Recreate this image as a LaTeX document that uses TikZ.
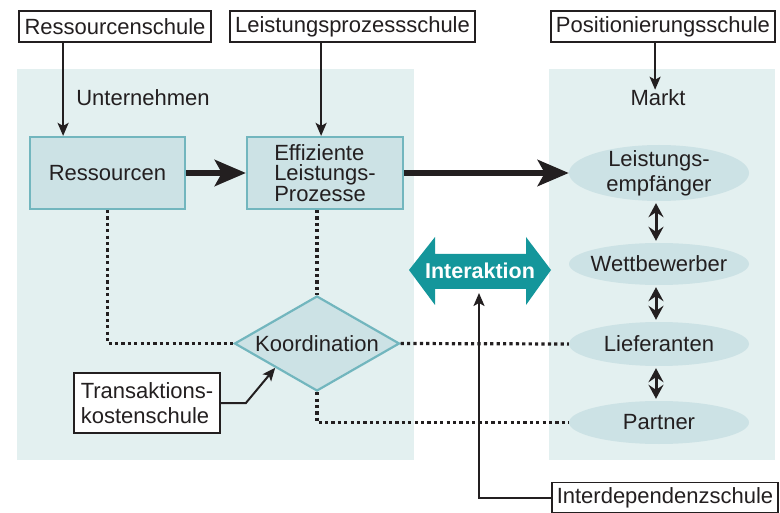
\documentclass[tikz,border=0pt]{standalone}
\usepackage{fontspec}
\setmainfont{Liberation Sans}
\usetikzlibrary{shapes.geometric,arrows.meta,calc}
\definecolor{txt}{HTML}{231F20}
\definecolor{panel}{HTML}{E3F0F0}
\definecolor{boxfill}{HTML}{CCE2E5}
\definecolor{boxline}{HTML}{72B6BE}
\definecolor{tealc}{HTML}{14969B}
\begin{document}
\begin{tikzpicture}[x=1pt,y=-1pt,
  every node/.style={text=txt, font=\fontsize{22}{23}\selectfont, inner sep=0pt},
  school/.style={draw=txt, line width=1.8pt, fill=white},
  proc/.style={fill=boxfill, draw=boxline, line width=2.2pt},
  mk/.style={ellipse, fill=boxfill, minimum width=180, align=center, inner xsep=-10pt, inner ysep=-6pt},
  thinarrow/.style={draw=txt, line width=2pt, -{Stealth[length=13pt,width=11pt,inset=3pt]}},
  thickarrow/.style={draw=txt, line width=6.5pt, -{Stealth[length=31pt,width=26pt,inset=7pt]}},
  dblarrow/.style={draw=txt, line width=3pt, {Stealth[length=14pt,width=15pt,inset=5pt]}-{Stealth[length=14pt,width=15pt,inset=5pt]}, shorten <=2pt, shorten >=2pt},
  dotline/.style={draw=txt, line width=3.2pt, dash pattern=on 3.2pt off 3.2pt}
]
\useasboundingbox (0,0) rectangle (780,513);
% panels
\fill[panel] (17,69) rectangle (414,460);
\fill[panel] (549,69) rectangle (775,460);

% school boxes
\node[school, minimum width=192, minimum height=31] (rs) at (115,26.5) {Ressourcenschule};
\node[school, minimum width=245, minimum height=31] (lp) at (352.5,26.5) {Leistungsprozessschule};
\node[school, minimum width=224, minimum height=31] (ps) at (663,26.5) {Positionierungsschule};
\node[school, minimum width=146, minimum height=60, align=left, font=\fontsize{22}{25}\selectfont] (tk) at (147,403) {Transaktions-\\kostenschule};
\node[school, minimum width=226, minimum height=30] (id) at (665,497.5) {Interdependenzschule};

% labels
\node (unt) at (143,98) {Unternehmen};
\node (markt) at (658,98) {Markt};

% process boxes
\node[proc, minimum width=155, minimum height=72] (ress) at (107.5,173) {Ressourcen};
\node[proc, minimum width=156, minimum height=72, align=left, font=\fontsize{22}{20.5}\selectfont] (eff) at (325,173) {Effiziente\\Leistungs-\\Prozesse};

% market ellipses
\node[mk, minimum height=56, font=\fontsize{22}{25}\selectfont] (le) at (659,173) {Leistungs-\\empfänger};
\node[mk, minimum height=42] (wb) at (659,264) {Wettbewerber};
\node[mk, minimum height=44] (lief) at (659,344) {Lieferanten};
\node[mk, minimum height=43] (part) at (659,422.5) {Partner};

% coordination diamond
\node[diamond, aspect=1.74, proc, minimum width=165, minimum height=95] (koord) at (317,343.5) {Koordination};

% interaction double arrow
\fill[tealc] (409,270) -- (435,237) -- (435,254) -- (526,254) -- (526,237) -- (551,270)
  -- (526,305) -- (526,289) -- (435,289) -- (435,305) -- cycle;
\node[text=white, font=\fontsize{21.5}{22}\selectfont\bfseries] (inter) at (480,271) {Interaktion};
\coordinate (interb) at (479,293);

% school arrows
\coordinate (a1) at ($(rs.south west)+(45,0)$);
\draw[thinarrow] (a1) -- (a1 |- ress.north);
\coordinate (a2) at ($(lp.south west)+(92,0)$);
\draw[thinarrow] (a2) -- (a2 |- eff.north);
\coordinate (a3) at ($(ps.south west)+(105,0)$);
\draw[thinarrow] (a3) -- (a3 |- markt.north);
\draw[thinarrow] (tk.east) -- ++(25,0) -- (koord.south west);
\draw[thinarrow] (id.west) -| (interb);

% thick arrows
\draw[thickarrow] (ress.east) -- (eff.west);
\draw[thickarrow] (eff.east) -- (le.west);

% double arrows in market
\draw[dblarrow] ($(le.south)+(-3,0)$) -- ($(wb.north)+(-3,0)$);
\draw[dblarrow] ($(wb.south)+(-3,0)$) -- ($(lief.north)+(-3,0)$);
\draw[dblarrow] ($(lief.south)+(-3,0)$) -- ($(part.north)+(-3,0)$);

% dotted lines
\draw[dotline] (ress.south) |- (koord.west);
\draw[dotline] (koord.north |- eff.south) -- (koord.north);
\draw[dotline] (koord.east) -- (lief.west);
\draw[dotline] (koord.south) |- (part.west);
\end{tikzpicture}
\end{document}
